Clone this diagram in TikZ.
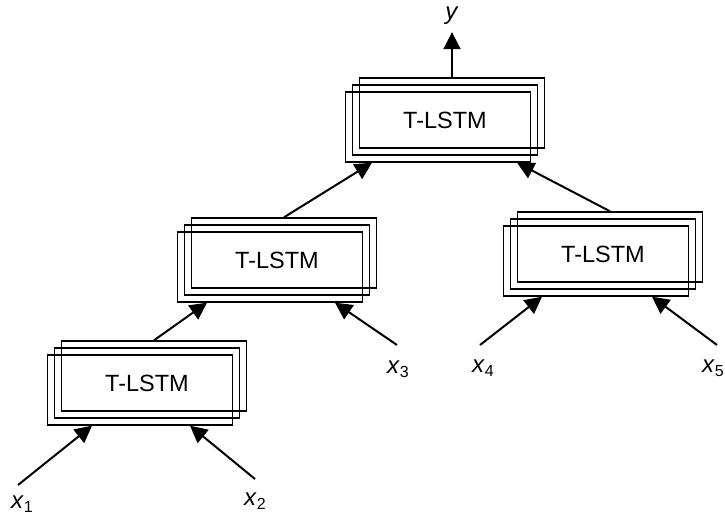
\documentclass[tikz,border=0pt]{standalone}
\usepackage{fontspec}
\setmainfont{Liberation Sans}
\usetikzlibrary{arrows.meta,calc}
\newcommand{\xsub}[1]{\textit{x}\raisebox{-4pt}{\fontsize{16}{16}\selectfont #1}}
\begin{document}
\begin{tikzpicture}[x=1pt,y=-1pt,
  tbox/.style={draw, line width=1.4pt, minimum width=185pt, minimum height=70pt, inner sep=0pt},
  txt/.style={font=\fontsize{23.5}{27}\selectfont},
  lab/.style={font=\fontsize{24}{27}\selectfont, inner sep=0pt},
  conn/.style={line width=2pt, -{Triangle[length=17pt,width=17pt]}}
  ]
\useasboundingbox (0,0) rectangle (725,518);

% top
\node[tbox] (tb) at (452,113) {};
\node[tbox, txt] (tm) at (445,120) {T-LSTM};
\node[tbox] (tf) at (438,127) {};
% middle left
\node[tbox] (mb) at (284,253) {};
\node[tbox, txt] (mm) at (277,260) {T-LSTM};
\node[tbox] (mf) at (270,267) {};
% bottom left
\node[tbox] (lb) at (154,376) {};
\node[tbox, txt] (lm) at (147,383) {T-LSTM};
\node[tbox] (lf) at (140,390) {};
% right
\node[tbox] (rb) at (610,247) {};
\node[tbox, txt] (rm) at (603,254) {T-LSTM};
\node[tbox] (rf) at (596,261) {};

% labels
\node[lab, anchor=base] (y) at (452,20) {\textit{y}};
\node[lab, anchor=base west] (x1) at (11,508) {\xsub{1}};
\node[lab, anchor=base west] (x2) at (244,505) {\xsub{2}};
\node[lab, anchor=base west] (x3) at (387,373) {\xsub{3}};
\node[lab, anchor=base west] (x4) at (472,372) {\xsub{4}};
\node[lab, anchor=base west] (x5) at (702,372) {\xsub{5}};

% free ends
\coordinate (c1) at (18,485);
\coordinate (c2) at (255,479);
\coordinate (c3) at (397,345);
\coordinate (c4) at (480,345);
\coordinate (c5) at (717,345);

% connectors
\draw[conn, shorten >=7pt] (tb.north) -- (y.south -| tb.north);
\draw[conn] (mb.north) -- ($(tf.south)+(-66,0)$);
\draw[conn] (rb.north) -- ($(tf.south)+(79,0)$);
\draw[conn] (lb.north) -- ($(mf.south)+(-63,0)$);
\draw[conn] (c3) -- ($(mf.south)+(65,0)$);
\draw[conn] (c1) -- ($(lf.south)+(-48,0)$);
\draw[conn] (c2) -- ($(lf.south)+(50,0)$);
\draw[conn] (c4) -- ($(rf.south)+(-54,0)$);
\draw[conn] (c5) -- ($(rf.south)+(56,0)$);
\end{tikzpicture}
\end{document}
